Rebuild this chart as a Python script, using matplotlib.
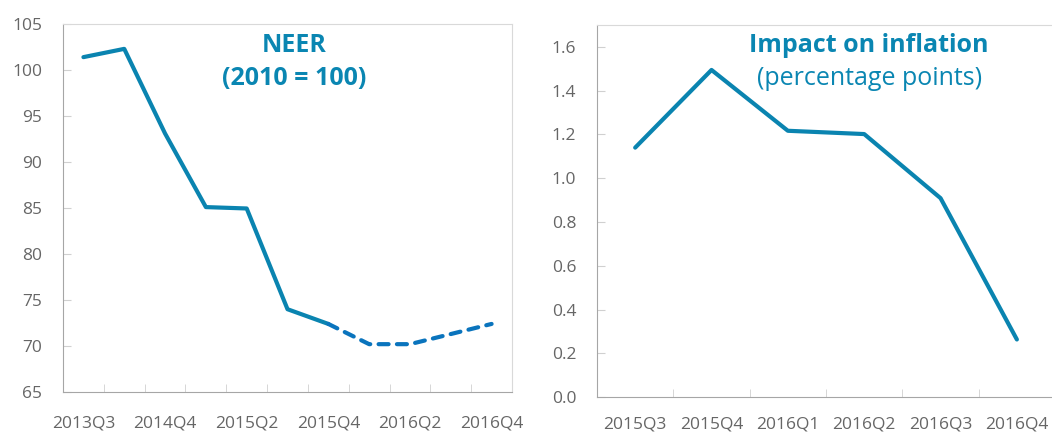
import matplotlib.pyplot as plt
from matplotlib.ticker import FormatStrFormatter

# NEER (2010 = 100), actual then projected (dashed)
neer_quarters = ['2013Q3', '2014Q2', '2014Q4', '2015Q1', '2015Q2', '2015Q3',
                 '2015Q4', '2016Q1', '2016Q2', '2016Q3', '2016Q4']
neer_actual = [101.4, 102.3, 93.1, 85.1, 84.95, 74.0, 72.4]
neer_projected = [72.4, 70.2, 70.2, 71.3, 72.4]

# impact on inflation, percentage points
infl_quarters = ['2015Q3', '2015Q4', '2016Q1', '2016Q2', '2016Q3', '2016Q4']
infl_impact = [1.14, 1.495, 1.217, 1.202, 0.909, 0.263]

line_col = '#0A84B0'
dash_col = '#0A74BD'
title_col = '#0A86B2'
text_col = '#666666'

plt.rcParams['font.family'] = ['Open Sans', 'DejaVu Sans']

fig = plt.figure(figsize=(10.52, 4.36), dpi=100)
ax1 = fig.add_axes([0.0599, 0.1009, 0.4268, 0.844])
ax2 = fig.add_axes([0.5675, 0.0894, 0.4354, 0.853])


def style_axes(ax, xpad, ypad):
    for side in ['left', 'bottom']:
        ax.spines[side].set_color('#A6A6A6')
    for side in ['top', 'right']:
        ax.spines[side].set_color('#D9D9D9')
    ax.tick_params(axis='y', direction='in', length=6, color='#D0D0D0',
                   labelsize=12.5, labelcolor=text_col, pad=ypad)
    ax.tick_params(axis='x', which='major', length=0, labelsize=12.5,
                   labelcolor=text_col, pad=xpad)
    ax.tick_params(axis='x', which='minor', direction='in', length=6,
                   color='#D0D0D0')


# left: NEER
n = len(neer_quarters)
start = len(neer_actual) - 1
ax1.plot(range(len(neer_actual)), neer_actual, color=line_col, lw=3,
         solid_capstyle='round', solid_joinstyle='round')
ax1.plot(range(start, start + len(neer_projected)), neer_projected,
         color=dash_col, lw=3, linestyle=(0, (2.4, 2.0)),
         dash_capstyle='round')
ax1.set_xlim(-0.5, n - 0.5)
ax1.set_ylim(65, 105)
ax1.set_yticks(range(65, 106, 5))
ax1.set_xticks(range(0, n, 2))
ax1.set_xticklabels(neer_quarters[::2])
ax1.set_xticks([i + 0.5 for i in range(n - 1)], minor=True)
style_axes(ax1, 17, 15)
ax1.text(0.515, 0.975, 'NEER\n(2010 = 100)', transform=ax1.transAxes,
         ha='center', va='top', color=title_col, fontsize=18,
         fontweight='bold', linespacing=1.4)

# right: impact on inflation
m = len(infl_quarters)
ax2.plot(range(m), infl_impact, color=line_col, lw=3,
         solid_capstyle='round', solid_joinstyle='round')
ax2.set_xlim(-0.5, m - 0.5)
ax2.set_ylim(0, 1.7)
ax2.set_yticks([i * 0.2 for i in range(9)])
ax2.yaxis.set_major_formatter(FormatStrFormatter('%.1f'))
ax2.set_xticks(range(m))
ax2.set_xticklabels(infl_quarters)
ax2.set_xticks([i + 0.5 for i in range(m - 1)], minor=True)
style_axes(ax2, 14, 15)
ax2.text(0.594, 0.98, 'Impact on inflation', transform=ax2.transAxes,
         ha='center', va='top', color=title_col, fontsize=18,
         fontweight='bold')
ax2.text(0.594, 0.89, '(percentage points)', transform=ax2.transAxes,
         ha='center', va='top', color=title_col, fontsize=18)

fig.savefig('out.png', dpi=100)
